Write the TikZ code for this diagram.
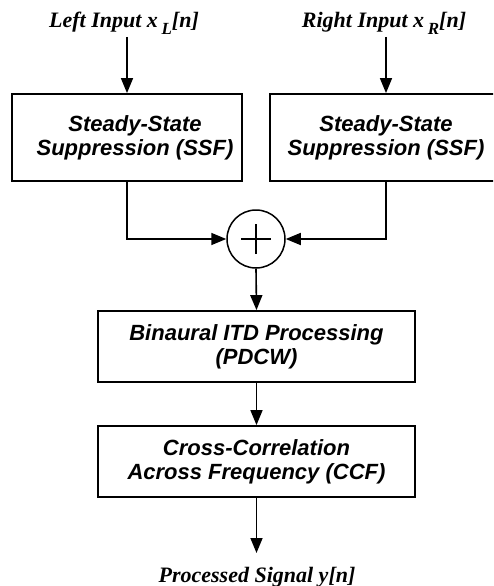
\documentclass[tikz,border=0pt]{standalone}
\usepackage{fontspec}
\setmainfont{Liberation Serif}
\newfontfamily\arialf{Liberation Sans}
\usetikzlibrary{arrows.meta}
\tikzset{
  blk/.style={draw, line width=1.8pt, minimum width=230pt, minimum height=87pt, inner sep=0pt, align=center,
    font=\arialf\bfseries\itshape\fontsize{22}{24}\selectfont},
  wblk/.style={blk, minimum width=317pt, minimum height=71pt},
  lab/.style={anchor=base, inner sep=0pt, font=\bfseries\itshape\fontsize{22}{24}\selectfont},
  arr/.style={line width=1.6pt, -{Triangle[length=15pt,width=12pt]}},
  sumc/.style={draw, circle, line width=1.5pt, minimum size=58pt, inner sep=0pt}
}
\newcommand{\subl}[1]{\,\raisebox{-6pt}{\fontsize{17}{17}\selectfont #1}}
\newcommand{\sh}{\hspace*{16pt}}
\begin{document}
\begin{tikzpicture}[x=1pt,y=-1pt]
\clip (0,0) rectangle (493,586);
\fill[white] (0,0) rectangle (493,586);
\node[lab] (labL) at (124,28) {Left Input x\subl{L}[n]};
\node[lab] (labR) at (384,28) {Right Input x\subl{R}[n]};
\node[blk] (ssfL) at (127,137.5) {\sh Steady-State\\\sh Suppression (SSF)};
\node[blk, minimum width=232pt] (ssfR) at (386,137.5) {Steady-State\\Suppression (SSF)};
\node[sumc] (sum) at (256,239) {};
\draw[line width=1.1pt] ([xshift=-15pt]sum.center) -- ([xshift=15pt]sum.center)
  ([yshift=-15pt]sum.center) -- ([yshift=15pt]sum.center);
\node[wblk] (itd) at (256.5,346.5) {Binaural ITD Processing\\(PDCW)};
\node[wblk] (ccf) at (256.5,461.5) {Cross-Correlation\\Across Frequency (CCF)};
\node[lab] (out) at (257,582) {Processed Signal y[n]};
\coordinate (outtip) at (256.5,553);
\draw[arr] ([yshift=-9pt]labL.base -| ssfL.north) -- (ssfL.north);
\draw[arr] ([yshift=-9pt]labR.base -| ssfR.north) -- (ssfR.north);
\draw[arr] (ssfL.south) |- (sum.west);
\draw[arr] (ssfR.south) |- (sum.east);
\draw[arr] (sum.south) -- (itd.north);
\draw[arr] (itd.south) -- (ccf.north);
\draw[arr] (ccf.south) -- (outtip);
\end{tikzpicture}
\end{document}
